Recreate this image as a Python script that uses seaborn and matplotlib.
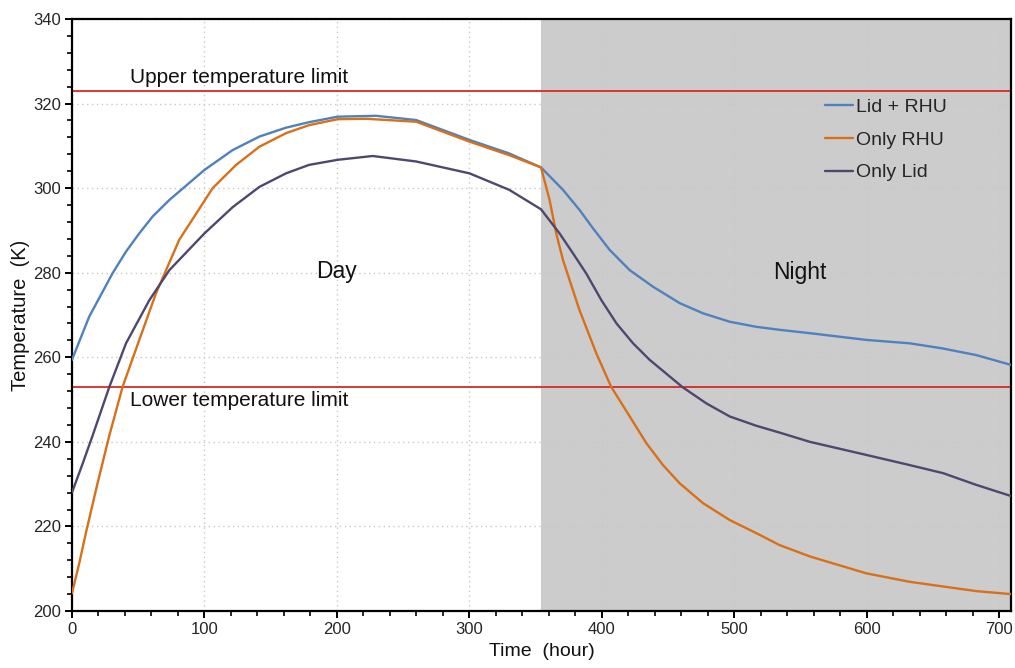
import matplotlib
matplotlib.use("Agg")
import matplotlib.pyplot as plt
from matplotlib.ticker import MultipleLocator
import pandas as pd
import seaborn as sns

# Temperature histories over one lunar day (hours, Kelvin)
lid_rhu_t = [0, 13, 30.7, 40.8, 50.8, 60.9, 73.5, 100, 121.3, 141.5, 161.6, 179, 200.6,
             229.6, 259.8, 300, 330, 354, 370.6, 383.2, 393, 405.8, 421, 438.5, 458.7,
             476.3, 496.5, 516.6, 534, 557, 599.7, 632.4, 657, 682.8, 708.7]
lid_rhu_T = [259.4, 269.6, 279.9, 285.0, 289.3, 293.3, 297.2, 304.3, 309.0, 312.2, 314.3, 315.6, 316.9,
             317.1, 316.1, 311.4, 308.2, 304.9, 299.6, 294.8, 290.6, 285.4, 280.6, 276.7, 272.8,
             270.4, 268.4, 267.2, 266.5, 265.7, 264.1, 263.3, 262.1, 260.5, 258.2]

rhu_t = [0, 5.5, 10.6, 19.3, 28.2, 38.2, 50.8, 63.4, 81, 106.2, 123.9, 141.5, 161.6, 179,
         200.6, 222, 259.8, 300, 330, 354, 360.5, 365.5, 370.6, 383, 395.8, 407, 421, 433.5,
         446.1, 458.7, 476.3, 496.5, 516.6, 534, 557, 599.7, 632.4, 657.5, 682.8, 708.7]
rhu_T = [204.2, 211.3, 218.6, 230.2, 241.5, 253.0, 264.1, 275.1, 287.8, 300.0, 305.5, 309.8, 313.0, 314.9,
         316.3, 316.4, 315.7, 311.0, 307.8, 304.9, 297.2, 289.3, 283.0, 271.2, 260.9, 253.0, 246.0, 239.7,
         234.5, 230.2, 225.5, 221.5, 218.4, 215.6, 212.9, 208.9, 206.9, 205.8, 204.7, 204.0]

lid_t = [0, 8, 15.6, 28.2, 40.8, 58.4, 73.5, 100, 121.3, 141.5, 161.6, 179, 200.6, 227,
         259.8, 300, 330, 354, 368, 378.1, 388, 399.6, 411, 423.5, 436, 461, 478.8, 496.5,
         516.6, 534, 557, 599.7, 632.4, 657.5, 682.8, 708.7]
lid_T = [228.0, 234.8, 241.5, 253.0, 263.3, 273.5, 280.6, 289.3, 295.5, 300.3, 303.5, 305.5, 306.7, 307.6,
         306.3, 303.5, 299.6, 295.0, 289.3, 284.6, 279.9, 273.5, 268.0, 263.3, 259.4, 252.9, 249.1, 246.0,
         243.8, 242.2, 240.0, 236.9, 234.5, 232.6, 229.8, 227.2]

series_names = ["Lid + RHU", "Only RHU", "Only Lid"]
series_colors = ["#4F81BD", "#D8701A", "#50466E"]

upper_limit = 323
lower_limit = 253
night_start = 354
t_end = 708.7

frames = []
for name, t, T in zip(series_names, [lid_rhu_t, rhu_t, lid_t], [lid_rhu_T, rhu_T, lid_T]):
    frames.append(pd.DataFrame({"Time": t, "Temperature": T, "Case": name}))
df = pd.concat(frames, ignore_index=True)

sns.set_theme(style="ticks")
plt.rcParams["font.family"] = ["Liberation Sans", "DejaVu Sans"]

fig = plt.figure(figsize=(10.15, 6.68), dpi=100)
ax = fig.add_axes([0.0709, 0.0853, 0.9251, 0.8863])

ax.axvspan(night_start, t_end, color="#CCCCCC", zorder=0.2, lw=0)

sns.lineplot(data=df, x="Time", y="Temperature", hue="Case", hue_order=series_names,
             palette=dict(zip(series_names, series_colors)), linewidth=1.7,
             sort=False, estimator=None, ax=ax, zorder=3)

ax.axhline(upper_limit, color="#D42A2A", lw=1.3, zorder=2.5)
ax.axhline(lower_limit, color="#D42A2A", lw=1.3, zorder=2.5)

ax.text(43.5, upper_limit + 1.8, "Upper temperature limit", fontsize=15, color="#111111",
        va="baseline", ha="left")
ax.text(43.5, lower_limit - 1.0, "Lower temperature limit", fontsize=15, color="#111111",
        va="top", ha="left")
ax.text(199.5, 280.3, "Day", fontsize=16.5, ha="center", va="center", color="#111111")
ax.text(549, 280.0, "Night", fontsize=16.5, ha="center", va="center", color="#111111")

ax.set_xlim(0, t_end)
ax.set_ylim(200, 340)
ax.xaxis.set_major_locator(MultipleLocator(100))
ax.xaxis.set_minor_locator(MultipleLocator(20))
ax.yaxis.set_major_locator(MultipleLocator(20))
ax.yaxis.set_minor_locator(MultipleLocator(4))

ax.grid(True, which="major", color="#C8C8C8", linestyle=(0, (1, 2.5)), linewidth=1.0)
ax.set_axisbelow(True)

for side in ["left", "right", "top", "bottom"]:
    ax.spines[side].set_visible(True)
    ax.spines[side].set_color("black")
    ax.spines[side].set_linewidth(1.6)

ax.tick_params(axis="both", which="major", direction="out", length=5, width=1.4,
               color="black", labelsize=12, labelcolor="#262626", pad=3)
ax.tick_params(axis="both", which="minor", direction="out", length=3.5, width=1.2, color="black")

ax.set_xlabel("Time  (hour)", fontsize=14, color="#111111", labelpad=4)
ax.set_ylabel("Temperature  (K)", fontsize=14.5, color="#111111", labelpad=2)

handles, labels = ax.get_legend_handles_labels()
ax.legend(handles, labels, loc="upper left", bbox_to_anchor=(0.802, 0.866), frameon=False,
          fontsize=14, handlelength=1.45, handletextpad=0.15, labelspacing=0.78,
          borderaxespad=0, borderpad=0)

fig.savefig("out.png", dpi=100)
